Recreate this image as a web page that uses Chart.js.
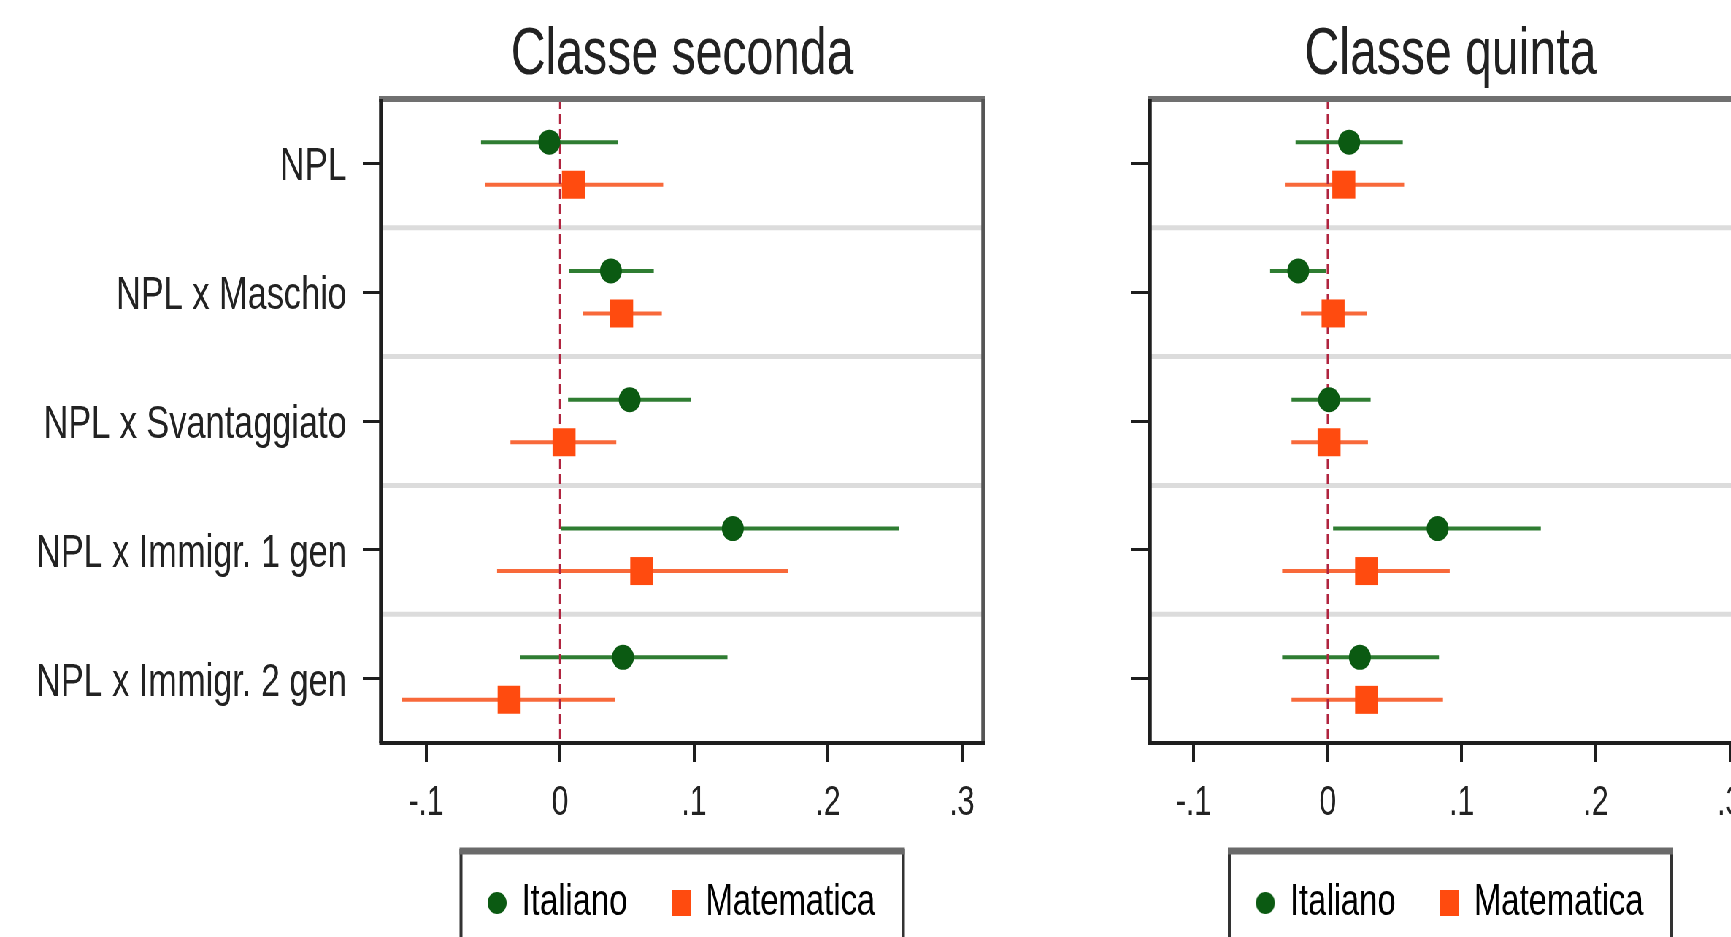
<!DOCTYPE html>
<html>
<head>
<meta charset="utf-8">
<script src="https://cdn.jsdelivr.net/npm/chart.js@4.4.1/dist/chart.umd.min.js"></script>
<style>
  html, body { margin: 0; padding: 0; background: #fff; width: 1731px; height: 937px; overflow: hidden; }
  /* the original figure is horizontally condensed: draw wide, squeeze with CSS */
  #wrap { position: absolute; left: 0; top: 0; width: 2425px; height: 1000px; transform: scaleX(0.73); transform-origin: 0 0; }
  canvas { position: absolute; top: 0; }
  #left { left: 0; }
  #right { left: 1370px; }
</style>
</head>
<body>
<div id="wrap">
  <canvas id="left" width="1370" height="1000"></canvas>
  <canvas id="right" width="1055" height="1000"></canvas>
</div>
<script>
const categories = ['NPL', 'NPL x Maschio', 'NPL x Svantaggiato', 'NPL x Immigr. 1 gen', 'NPL x Immigr. 2 gen'];
const seriesNames = ['Italiano', 'Matematica'];

const xTickValues = [-0.1, 0, 0.1, 0.2, 0.3];
const xTickLabels = ['-.1', '0', '.1', '.2', '.3'];

// Classe seconda
const secondaItaEst = [-0.008, 0.038, 0.052, 0.129, 0.047];
const secondaItaLo  = [-0.059, 0.007, 0.006, 0.001, -0.030];
const secondaItaHi  = [0.043, 0.070, 0.098, 0.253, 0.125];
const secondaMatEst = [0.010, 0.046, 0.003, 0.061, -0.038];
const secondaMatLo  = [-0.056, 0.017, -0.037, -0.047, -0.118];
const secondaMatHi  = [0.077, 0.076, 0.042, 0.170, 0.041];

// Classe quinta
const quintaItaEst = [0.016, -0.022, 0.001, 0.082, 0.024];
const quintaItaLo  = [-0.024, -0.043, -0.027, 0.004, -0.034];
const quintaItaHi  = [0.056, -0.001, 0.032, 0.159, 0.083];
const quintaMatEst = [0.012, 0.004, 0.001, 0.029, 0.029];
const quintaMatLo  = [-0.032, -0.020, -0.027, -0.034, -0.027];
const quintaMatHi  = [0.057, 0.029, 0.030, 0.091, 0.086];

const FONT = "'Liberation Sans', Arial, sans-serif";
const TEXT = '#222';
const GREEN_LINE = '#2f7d32';
const GREEN_DOT = '#0b5a12';
const ORANGE_LINE = '#f8693a';
const ORANGE_SQ = '#ff4b0f';

// small marker images for the legend
function markerImage(kind, color) {
    const c = document.createElement('canvas');
    c.width = kind === 'circle' ? 26 : 27;
    c.height = kind === 'circle' ? 22 : 26;
    const g = c.getContext('2d');
    g.fillStyle = color;
    if (kind === 'circle') {
        g.beginPath();
        g.ellipse(13, 11, 13, 11, 0, 0, Math.PI * 2);
        g.fill();
    } else {
        g.fillRect(0, 0, 27, 26);
    }
    return c;
}
const legendMarks = [markerImage('circle', GREEN_DOT), markerImage('rect', ORANGE_SQ)];

// separators between categories, dashed zero line, estimates, frames
const backdrop = {
    id: 'backdrop',
    beforeDatasetsDraw(chart) {
        const { ctx, chartArea, scales } = chart;
        ctx.save();
        ctx.strokeStyle = '#dcdcdc';
        ctx.lineWidth = 5;
        for (let i = 0; i < categories.length - 1; i++) {
            const y = (scales.y.getPixelForValue(i) + scales.y.getPixelForValue(i + 1)) / 2;
            ctx.beginPath();
            ctx.moveTo(chartArea.left, y);
            ctx.lineTo(chartArea.right, y);
            ctx.stroke();
        }
        ctx.restore();
    },
    afterDatasetsDraw(chart) {
        const { ctx, chartArea, scales } = chart;
        ctx.save();
        const x0 = scales.x.getPixelForValue(0);
        ctx.strokeStyle = '#b0243f';
        ctx.lineWidth = 2.7;
        ctx.setLineDash([10, 5]);
        ctx.beginPath();
        ctx.moveTo(x0, chartArea.top);
        ctx.lineTo(x0, chartArea.bottom);
        ctx.stroke();
        ctx.setLineDash([]);
        chart.data.datasets.forEach((ds, d) => {
            const meta = chart.getDatasetMeta(d);
            meta.data.forEach((bar, i) => {
                const x = scales.x.getPixelForValue(ds.est[i]);
                const y = bar.y;
                ctx.fillStyle = ds.markerColor;
                ctx.beginPath();
                if (ds.marker === 'circle') {
                    ctx.ellipse(x, y, 15, 12.5, 0, 0, Math.PI * 2);
                } else {
                    ctx.rect(x - 15.75, y - 14, 31.5, 28);
                }
                ctx.fill();
            });
        });
        ctx.restore();
    },
    afterDraw(chart) {
        const { ctx, chartArea } = chart;
        ctx.save();
        ctx.lineWidth = 6;
        ctx.strokeStyle = '#707070';
        ctx.beginPath();
        ctx.moveTo(chartArea.left - 3, chartArea.top);
        ctx.lineTo(chartArea.right + 3, chartArea.top);
        ctx.stroke();
        ctx.lineWidth = 5.5;
        ctx.strokeStyle = '#555';
        ctx.beginPath();
        ctx.moveTo(chartArea.right, chartArea.top);
        ctx.lineTo(chartArea.right, chartArea.bottom);
        ctx.stroke();
        ctx.strokeStyle = '#1e1e1e';
        ctx.beginPath();
        ctx.moveTo(chartArea.left, chartArea.top);
        ctx.lineTo(chartArea.left, chartArea.bottom);
        ctx.stroke();
        ctx.lineWidth = 4;
        ctx.beginPath();
        ctx.moveTo(chartArea.left - 2.5, chartArea.bottom);
        ctx.lineTo(chartArea.right + 3, chartArea.bottom);
        ctx.stroke();

        // legend frame
        const cx = (chartArea.left + chartArea.right) / 2;
        const top = 851;
        const half = 303;
        ctx.lineWidth = 4;
        ctx.strokeStyle = '#333';
        ctx.beginPath();
        ctx.moveTo(cx - half, top + 140);
        ctx.lineTo(cx - half, top);
        ctx.lineTo(cx + half, top);
        ctx.lineTo(cx + half, top + 140);
        ctx.stroke();
        ctx.lineWidth = 7;
        ctx.strokeStyle = '#6a6a6a';
        ctx.beginPath();
        ctx.moveTo(cx - half - 2, top);
        ctx.lineTo(cx + half + 2, top);
        ctx.stroke();
        ctx.restore();
    }
};

function makePanel(id, title, itaLo, itaHi, itaEst, matLo, matHi, matEst, opts) {
    return new Chart(document.getElementById(id), {
        type: 'bar',
        data: {
            labels: categories,
            datasets: [
                {
                    label: seriesNames[0],
                    data: itaLo.map((v, i) => [v, itaHi[i]]),
                    est: itaEst,
                    marker: 'circle',
                    markerColor: GREEN_DOT,
                    backgroundColor: GREEN_LINE,
                    borderSkipped: false
                },
                {
                    label: seriesNames[1],
                    data: matLo.map((v, i) => [v, matHi[i]]),
                    est: matEst,
                    marker: 'rect',
                    markerColor: ORANGE_SQ,
                    backgroundColor: ORANGE_LINE,
                    borderSkipped: false
                }
            ]
        },
        options: {
            indexAxis: 'y',
            responsive: false,
            animation: false,
            categoryPercentage: 0.66,
            barPercentage: 0.094,
            layout: { padding: { left: 0, right: opts.padRight, top: 0, bottom: 64.5 } },
            scales: {
                x: {
                    type: 'linear',
                    min: opts.xMin,
                    max: 0.316,
                    afterBuildTicks: axis => {
                        axis.ticks = xTickValues.map(v => ({ value: v }));
                    },
                    afterFit: axis => { axis.height = 75; },
                    grid: {
                        drawOnChartArea: false,
                        drawTicks: true,
                        tickLength: 19,
                        color: '#1e1e1e',
                        lineWidth: 4
                    },
                    border: { display: false },
                    ticks: {
                        padding: 16,
                        color: TEXT,
                        font: { family: FONT, size: 42 },
                        callback: (v, i) => xTickLabels[i]
                    }
                },
                y: {
                    afterFit: axis => { axis.width = opts.yWidth; },
                    grid: {
                        offset: false,
                        drawOnChartArea: false,
                        drawTicks: true,
                        tickLength: 25,
                        color: '#1e1e1e',
                        lineWidth: 3
                    },
                    border: { display: false },
                    ticks: {
                        padding: 22,
                        labelOffset: 4,
                        color: TEXT,
                        font: { family: FONT, size: 47 },
                        callback: (v, i) => opts.showLabels ? categories[i] : ''
                    }
                }
            },
            plugins: {
                title: {
                    display: true,
                    text: title,
                    fullSize: false,
                    color: TEXT,
                    font: { family: FONT, size: 66, weight: 'normal', lineHeight: 1.2 },
                    padding: { top: 16, bottom: 3.8 }
                },
                legend: {
                    position: 'bottom',
                    fullSize: false,
                    labels: {
                        usePointStyle: true,
                        pointStyleWidth: 22,
                        boxHeight: 24,
                        padding: 62.5,
                        color: TEXT,
                        font: { family: FONT, size: 45 },
                        generateLabels: chart => chart.data.datasets.map((ds, i) => ({
                            text: ds.label,
                            fillStyle: ds.markerColor,
                            strokeStyle: ds.markerColor,
                            lineWidth: 0,
                            pointStyle: legendMarks[i],
                            datasetIndex: i,
                            hidden: false
                        }))
                    }
                },
                tooltip: { enabled: false }
            }
        },
        plugins: [backdrop]
    });
}

makePanel('left', 'Classe seconda',
    secondaItaLo, secondaItaHi, secondaItaEst,
    secondaMatLo, secondaMatHi, secondaMatEst,
    { showLabels: true, yWidth: 522, xMin: -0.1336, padRight: 23 });

makePanel('right', 'Classe quinta',
    quintaItaLo, quintaItaHi, quintaItaEst,
    quintaMatLo, quintaMatHi, quintaMatEst,
    { showLabels: false, yWidth: 205, xMin: -0.1328, padRight: 26 });
</script>
</body>
</html>
